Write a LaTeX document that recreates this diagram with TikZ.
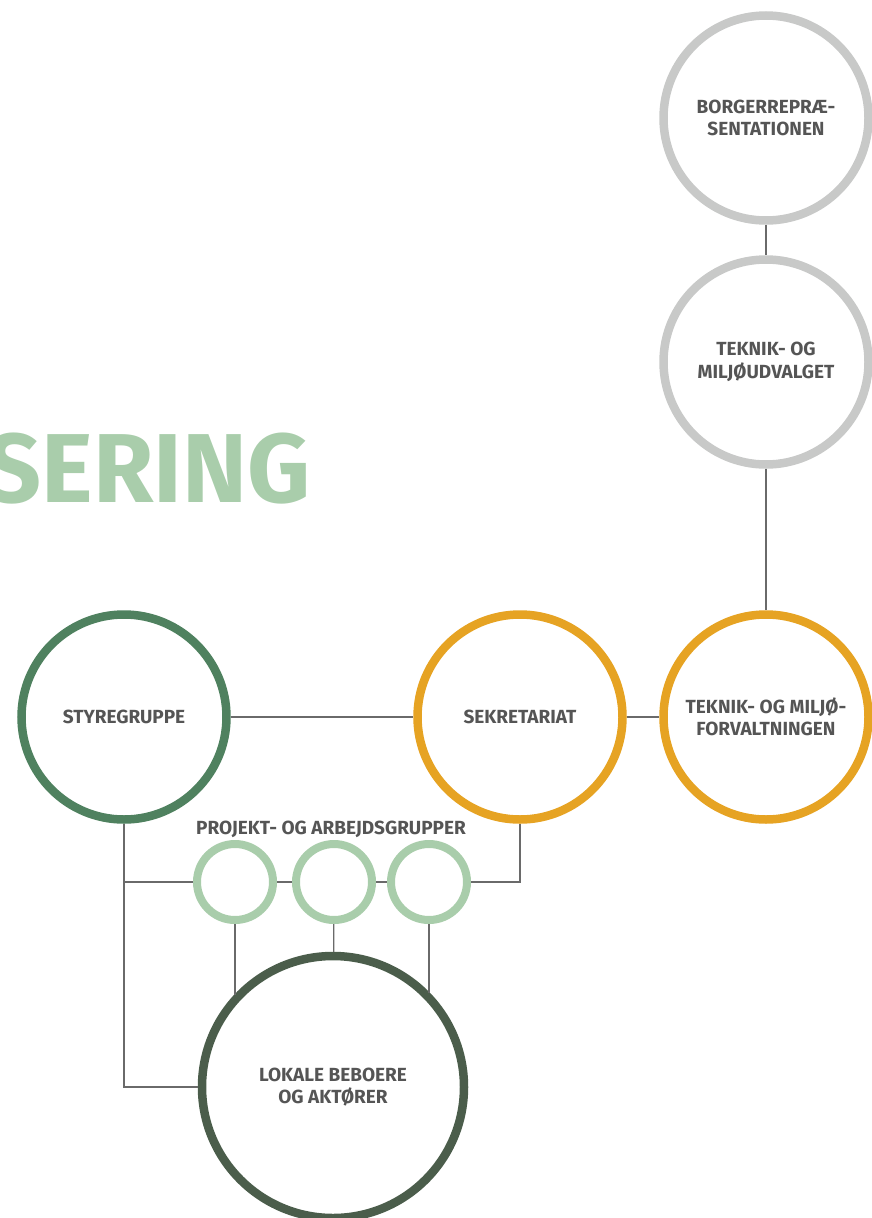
\documentclass[tikz,border=0pt]{standalone}
\usepackage{fontspec}
\setmainfont{Fira Sans}
\usepackage{tikz}
\usetikzlibrary{positioning}
\definecolor{ringgrey}{HTML}{C8C9C8}
\definecolor{ringorange}{HTML}{E6A323}
\definecolor{ringgreen}{HTML}{4F815F}
\definecolor{ringlight}{HTML}{A9CDAB}
\definecolor{ringdark}{HTML}{4B5D4B}
\definecolor{labelgrey}{HTML}{555555}
\definecolor{linegrey}{HTML}{6A6A6A}

\begin{document}
\begin{tikzpicture}
                [
                    x=1pt, y=-1pt,
                    bigring/.style={circle, line width=8.5pt, minimum size=205pt, inner sep=0pt, align=center, text=labelgrey, font=\bfseries\fontsize{19}{22.5}\selectfont},
                    greynode/.style={bigring, draw=ringgrey},
                    orangenode/.style={bigring, draw=ringorange},
                    greennode/.style={bigring, draw=ringgreen},
                    lokalenode/.style={bigring, draw=ringdark, minimum size=262pt},
                    smallnode/.style={circle, draw=ringlight, line width=8pt, minimum size=76pt, inner sep=0pt},
                    conn/.style={draw=linegrey, line width=1.2pt},
                ]
                \useasboundingbox (0,0) rectangle (872,1218);
                \clip (0,0) rectangle (872,1218);

                \node [anchor=base east, text=ringlight, font=\bfseries\fontsize{98}{98}\selectfont] (title) at (314,502) {SERING};

                \node [greynode] (borger) at (766,118) {BORGERREPRÆ-\\SENTATIONEN};
                \node [greynode] (udvalg) at (766,362) {TEKNIK- OG\\MILJØUDVALGET};
                \node [orangenode] (forvalt) at (766,717) {TEKNIK- OG MILJØ-\\FORVALTNINGEN};
                \node [orangenode] (sekr) at (520,717) {SEKRETARIAT};
                \node [greennode] (styre) at (124,717) {STYREGRUPPE};

                \node [smallnode] (grp1) at (235,882) {};
                \node [smallnode] (grp2) at (334,882) {};
                \node [smallnode] (grp3) at (429,882) {};
                \node [text=labelgrey, font=\bfseries\fontsize{19}{22.5}\selectfont] (grptext) at (331,829) {PROJEKT- OG ARBEJDSGRUPPER};

                \node [lokalenode] (lokale) at (333,1087) {LOKALE BEBOERE\\OG AKTØRER};

                \draw[conn] (borger) -- (udvalg);
                \draw[conn] (udvalg) -- (forvalt);
                \draw[conn] (sekr) -- (forvalt);
                \draw[conn] (styre) -- (sekr);
                \draw[conn] (styre.south) |- (lokale.west);
                \draw[conn] (styre.south |- grp1) -- (grp1);
                \draw[conn] (grp1) -- (grp2);
                \draw[conn] (grp2) -- (grp3);
                \draw[conn] (grp3.east) -| (sekr.south);
                \draw[conn] (grp1.south) -- (grp1.south |- lokale.137);
                \draw[conn] (grp2) -- (lokale);
                \draw[conn] (grp3.south) -- (grp3.south |- lokale.44);

            \end{tikzpicture}
\end{document}
